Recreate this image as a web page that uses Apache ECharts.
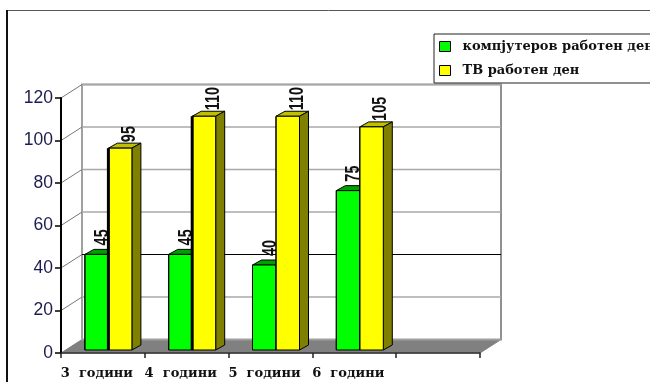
<!DOCTYPE html>
<html><head><meta charset="utf-8">
<style>html,body{margin:0;padding:0;background:#fff}#c{width:650px;height:382px;filter:blur(0.4px)}</style>
<script src="https://cdn.jsdelivr.net/npm/echarts@6/dist/echarts.min.js"></script>
</head><body><div id="c"></div>
<script>
const categories = ['3  години','4  години','5  години','6  години',''];
const computerDay = [45,45,40,75];
const tvDay = [95,110,110,105];
const yTicks = [0,20,40,60,80,100,120];
const seriesNames = ['компјутеров работен ден','ТВ работен ден'];

const chart = echarts.init(document.getElementById('c'));
const DX = 21, DY = -13.5;      // back wall offset
const BW = 23.5, SX = 9, SY = -5, LIFT = -3;

function wallItem(params, api){
  const cs = params.coordSys, v = api.value(0);
  const p = api.coord([0, v]);
  const x0 = cs.x, x1 = cs.x + cs.width, y = p[1];
  const children = [];
  if (v === 0) {
    children.push({type:'polygon', shape:{points:[[x0,y],[x1,y],[x1+DX,y+DY],[x0+DX,y+DY]]},
      style:{fill:'#808080', stroke:'#808080'}});
    children.push({type:'rect', shape:{x:x0+DX,y:cs.y+DY,width:cs.width,height:cs.height},
      style:{fill:'#fff', stroke:'#a0a0a0', lineWidth:2}});
    children.push({type:'line', shape:{x1:x1+DX,y1:cs.y+DY,x2:x1+DX,y2:y+DY},
      style:{stroke:'#909090', lineWidth:2}});
  } else {
    children.push({type:'line', shape:{x1:x0+DX,y1:y+DY,x2:x1+DX,y2:y+DY},
      style:{stroke: v===40 ? '#000' : '#a8a8a8', lineWidth: v===40 ? 1 : 1.5}});
    children.push({type:'line', shape:{x1:x0,y1:y,x2:x0+DX,y2:y+DY},
      style:{stroke:'#777', lineWidth:1}});
  }
  return {type:'group', children};
}

function barRenderer(shift, front, top, side, thick, labelShift, labelLift){
  return function(params, api){
    const i = api.value(0), v = api.value(1);
    const t = api.coord([i, v]), b = api.coord([i, 0]);
    const xl = t[0] + shift, xr = xl + BW, yt = t[1] + LIFT, yb = b[1] + LIFT;
    const lw = thick && i < 2 ? 3 : 1;
    return {type:'group', children:[
      {type:'polygon', shape:{points:[[xl,yt],[xl+SX,yt+SY],[xr+SX,yt+SY],[xr,yt]]},
        style:{fill:top, stroke:'#000', lineWidth:1}},
      {type:'polygon', shape:{points:[[xr,yt],[xr+SX,yt+SY],[xr+SX,yb+SY],[xr,yb]]},
        style:{fill:side, stroke:'#000', lineWidth:1}},
      {type:'rect', shape:{x:xl,y:yt,width:BW,height:yb-yt},
        style:{fill:front, stroke:'#000', lineWidth:1}},
      {type:'line', shape:{x1:xl,y1:yt,x2:xl,y2:yb}, style:{stroke:'#000', lineWidth:lw}},
      {type:'text', x:xr+labelShift, y:yt-labelLift, rotation:Math.PI/2, scaleX:0.72,
        style:{text:String(v), font:'bold 20px "Liberation Sans"', fill:'#111',
          align:'left', verticalAlign:'middle'}}
    ]};
  };
}

chart.setOption({
  animation:false,
  backgroundColor:'#fff',
  textStyle:{fontFamily:'"DejaVu Serif"'},
  grid:{left:61,right:170,top:98,bottom:29},
  xAxis:{type:'category',data:categories,z:5,
    axisLine:{lineStyle:{color:'#333',width:1.5}},
    axisTick:{show:true,length:5,lineStyle:{color:'#222',width:1.5}},
    axisLabel:{interval:0,margin:14,padding:[0,12,0,0],color:'#111',
      fontFamily:'"DejaVu Serif"',fontWeight:'bold',fontSize:13},
    splitLine:{show:false}},
  yAxis:{type:'value',min:0,max:120,interval:20,z:5,
    axisLine:{show:true,lineStyle:{color:'#000',width:2}},
    axisTick:{show:true,length:6,lineStyle:{color:'#000',width:1.5}},
    axisLabel:{margin:8,color:'#1c1c50',fontFamily:'"Liberation Sans"',fontSize:17.5},
    splitLine:{show:false}},
  legend:{show:true,orient:'vertical',left:434,top:34,padding:[6,8,6,5],itemGap:11,
    itemWidth:11,itemHeight:10,
    backgroundColor:'#fff',borderColor:'#222',borderWidth:1,borderRadius:0,
    textStyle:{fontFamily:'"DejaVu Serif"',fontWeight:'bold',fontSize:13,color:'#111',padding:[0,0,0,7]},
    data:[
      {name:seriesNames[0],icon:'rect',itemStyle:{color:'#00ff00',borderColor:'#000',borderWidth:1}},
      {name:seriesNames[1],icon:'rect',itemStyle:{color:'#ffff00',borderColor:'#000',borderWidth:1}}
    ]},
  graphic:[
    {type:'line',z:-1,shape:{x1:7,y1:10.5,x2:650,y2:10.5},style:{stroke:'#555',lineWidth:1}},
    {type:'line',z:-1,shape:{x1:7,y1:10,x2:7,y2:382},style:{stroke:'#111',lineWidth:2}}
  ],
  series:[
    {type:'custom',name:'wall',z:1,silent:true,coordinateSystem:'cartesian2d',clip:false,
      encode:{x:1,y:0},
      data:yTicks.map(v=>[v,0]),
      renderItem:(p,api)=>{
        const v=api.value(0);
        return wallItem(p,{value:()=>v,coord:c=>api.coord([0,c[1]])});
      }},
    {type:'custom',name:seriesNames[0],z:2,clip:false,itemStyle:{color:'#00ff00'},
      encode:{x:0,y:1},
      data:computerDay.map((v,i)=>[i,v]),
      renderItem:barRenderer(5.5-BW,'#00ff00','#00a000','#008000',false,-6,9)},
    {type:'custom',name:seriesNames[1],z:3,clip:false,itemStyle:{color:'#ffff00'},
      encode:{x:0,y:1},
      data:tvDay.map((v,i)=>[i,v]),
      renderItem:barRenderer(5.5,'#ffff00','#c0c000','#808000',true,-2.5,6)}
  ]
});
</script></body></html>
